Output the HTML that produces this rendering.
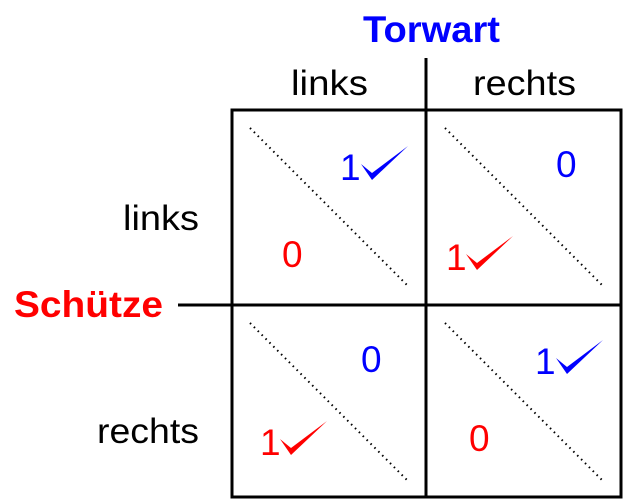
<!DOCTYPE html>
<html><head><style>
html,body{margin:0;padding:0;background:#fff;}
svg{display:block;}
text{font-family:"Liberation Sans",sans-serif;}
</style></head><body>
<svg width="623" height="502" viewBox="0 0 623 502" xmlns="http://www.w3.org/2000/svg">
<g stroke="#000" stroke-width="3" fill="none">
<rect x="232" y="110" width="389" height="387"/>
<line x1="426" y1="58" x2="426" y2="498"/>
<line x1="178" y1="305" x2="622" y2="305"/>
</g>
<g stroke="#000" stroke-width="2" stroke-dasharray="1.5 4" fill="none">
<line x1="250" y1="128" x2="407" y2="285"/>
<line x1="445" y1="128" x2="602" y2="285"/>
<line x1="250" y1="323" x2="407" y2="480"/>
<line x1="445" y1="323" x2="602" y2="480"/>
</g>
<text x="363" y="42" font-size="37" font-weight="bold" fill="#0000ff" textLength="137" lengthAdjust="spacingAndGlyphs">Torwart</text>
<text x="291" y="95" font-size="35" textLength="77" lengthAdjust="spacingAndGlyphs">links</text>
<text x="473" y="95" font-size="35" textLength="103" lengthAdjust="spacingAndGlyphs">rechts</text>
<text x="123" y="230" font-size="35" textLength="76" lengthAdjust="spacingAndGlyphs">links</text>
<text x="97" y="443" font-size="35" textLength="102" lengthAdjust="spacingAndGlyphs">rechts</text>
<text x="14" y="317" font-size="37" font-weight="bold" fill="#ff0000" textLength="149" lengthAdjust="spacingAndGlyphs">Schütze</text>
<g font-size="37">
<text x="340" y="180" fill="#0000ff">1</text>
<text x="282" y="267" fill="#ff0000">0</text>
<text x="556" y="177" fill="#0000ff">0</text>
<text x="446" y="270" fill="#ff0000">1</text>
<text x="361" y="372" fill="#0000ff">0</text>
<text x="260" y="455" fill="#ff0000">1</text>
<text x="535" y="374" fill="#0000ff">1</text>
<text x="469" y="451" fill="#ff0000">0</text>
</g>
<g>
<path d="M361,164 L372,180 L408,146 L372,173 Z" fill="#0000ff"/>
<path d="M466,254 L477,270 L513,236 L477,263 Z" fill="#ff0000"/>
<path d="M280,439 L291,455 L327,421 L291,448 Z" fill="#ff0000"/>
<path d="M556,358 L567,374 L603,340 L567,367 Z" fill="#0000ff"/>
</g>
</svg>
</body></html>
